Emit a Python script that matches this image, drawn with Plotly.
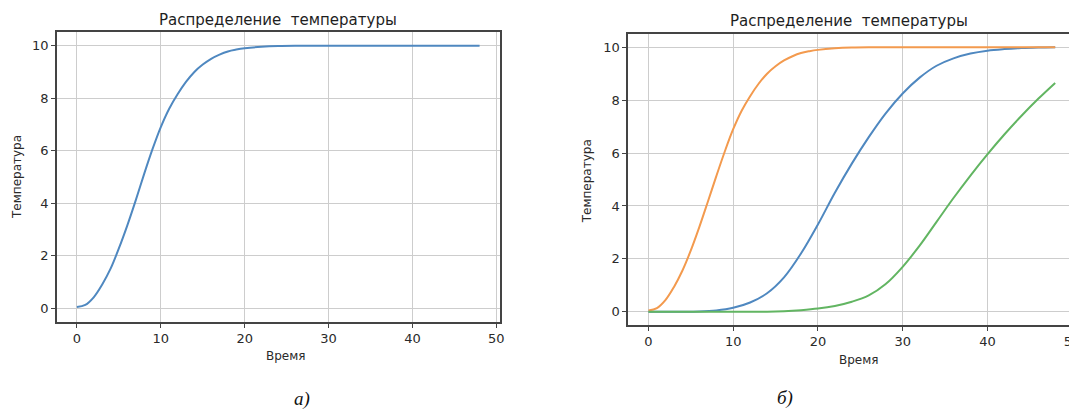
import plotly.graph_objects as go

# ---- data ----
time_a = [0, 1, 2, 3, 4, 5, 6, 7, 8, 9, 10, 11, 12, 13, 14, 15, 16, 17, 18, 19, 20,
          22, 24, 26, 28, 30, 32, 34, 36, 38, 40, 42, 44, 46, 48]
temp_a = [0.05, 0.13, 0.42, 0.9, 1.5, 2.28, 3.15, 4.1, 5.1, 6.05, 6.9, 7.6, 8.15, 8.62, 9.0, 9.28,
          9.5, 9.66, 9.78, 9.85, 9.9, 9.96, 9.99, 10.0, 10.0, 10.0, 10.0, 10.0, 10.0, 10.0, 10.0,
          10.0, 10.0, 10.0, 10.0]

time_b_orange = time_a
temp_b_orange = [0.05, 0.14, 0.44, 0.93, 1.55, 2.32, 3.2, 4.15, 5.12, 6.05, 6.9, 7.6, 8.15, 8.62, 9.0,
                 9.28, 9.5, 9.66, 9.78, 9.85, 9.9, 9.96, 9.99, 10.0, 10.0, 10.0, 10.0, 10.0, 10.0,
                 10.0, 10.0, 10.0, 10.0, 10.0, 10.0]

time_b = [0, 2, 4, 6, 8, 10, 12, 14, 16, 18, 20, 22, 24, 26, 28, 30, 32, 34, 36, 38, 40, 42, 44, 46, 48]
temp_b_blue = [0.0, 0.0, 0.0, 0.01, 0.05, 0.15, 0.35, 0.7, 1.3, 2.2, 3.3, 4.5, 5.6, 6.6, 7.5, 8.25,
               8.85, 9.3, 9.58, 9.76, 9.87, 9.93, 9.97, 9.99, 10.0]
temp_b_green = [0.0, 0.0, 0.0, 0.0, 0.0, 0.0, 0.0, 0.0, 0.02, 0.06, 0.12, 0.22, 0.38, 0.62, 1.05, 1.7,
                2.5, 3.4, 4.3, 5.15, 5.95, 6.7, 7.4, 8.05, 8.65]

x_ticks = [0, 10, 20, 30, 40, 50]
y_ticks = [0, 2, 4, 6, 8, 10]
title_text = "Распределение\u00a0 температуры"
xlabel = "Время"
ylabel = "Температура"
captions = ["а)", "б)"]

W, H = 1077, 414
OFF = 8  # browser body margin
BLUE, ORANGE, GREEN = "#4f88c0", "#f39a4e", "#62b562"
GRID = "#cdcdcd"
SPINE = "#444444"
TXT = "#2a2a2a"
FONT = "DejaVu Sans"

fig = go.Figure()
fig.add_trace(go.Scatter(x=time_a, y=temp_a, mode="lines", line=dict(color=BLUE, width=2, shape="spline"),
                         xaxis="x", yaxis="y", showlegend=False))
fig.add_trace(go.Scatter(x=time_b, y=temp_b_blue, mode="lines", line=dict(color=BLUE, width=2, shape="spline"),
                         xaxis="x2", yaxis="y2", showlegend=False))
fig.add_trace(go.Scatter(x=time_b_orange, y=temp_b_orange, mode="lines",
                         line=dict(color=ORANGE, width=2, shape="spline"),
                         xaxis="x2", yaxis="y2", showlegend=False))
fig.add_trace(go.Scatter(x=time_b, y=temp_b_green, mode="lines", line=dict(color=GREEN, width=2, shape="spline"),
                         xaxis="x2", yaxis="y2", showlegend=False))


def px_x(p):
    return (p - OFF) / W


def px_y(p):
    return 1 - (p - OFF) / H


axis_common = dict(showgrid=True, gridcolor=GRID, gridwidth=1, zeroline=False, showline=True,
                   linecolor=SPINE, linewidth=1.5, ticks="outside", ticklen=4, tickwidth=1,
                   tickcolor=SPINE, tickfont=dict(family=FONT, size=13, color=TXT))

fig.update_layout(
    width=W, height=H, margin=dict(l=0, r=0, t=0, b=0),
    paper_bgcolor="white", plot_bgcolor="white",
    xaxis=dict(domain=[px_x(57), px_x(502)], range=[-2.4, 50.4], tickvals=x_ticks, anchor="y",
               mirror=True, **axis_common),
    yaxis=dict(domain=[px_y(322), px_y(32)], range=[-0.52, 10.52], tickvals=y_ticks, anchor="x",
               mirror=True, **axis_common),
    xaxis2=dict(domain=[px_x(631), px_x(1080.5)], range=[-2.4, 50.4], tickvals=x_ticks, anchor="y2",
                mirror=True, **axis_common),
    yaxis2=dict(domain=[px_y(325), px_y(34)], range=[-0.5, 10.5], tickvals=y_ticks, anchor="x2",
                mirror=False, **axis_common),
)

ann = []
for cx, cy in [(279, 20), (853, 21)]:
    ann.append(dict(x=px_x(cx), y=px_y(cy), xref="paper", yref="paper", text=title_text, showarrow=False,
                    font=dict(family=FONT, size=15, color="#1e1e1e"), xanchor="center", yanchor="middle"))
for cx, cy in [(287, 356), (863, 360)]:
    ann.append(dict(x=px_x(cx), y=px_y(cy), xref="paper", yref="paper", text=xlabel, showarrow=False,
                    font=dict(family=FONT, size=12, color=TXT), xanchor="center", yanchor="middle"))
for cx, cy in [(17, 177), (590, 181)]:
    ann.append(dict(x=px_x(cx), y=px_y(cy), xref="paper", yref="paper", text=ylabel, showarrow=False,
                    textangle=-90, font=dict(family=FONT, size=12, color=TXT), xanchor="center", yanchor="middle"))
for txt, (cx, cy) in zip(captions, [(303, 399), (789, 398)]):
    ann.append(dict(x=px_x(cx), y=px_y(cy), xref="paper", yref="paper", text=f"<i>{txt}</i>", showarrow=False,
                    font=dict(family="Liberation Serif", size=19, color="#111111"), xanchor="center", yanchor="middle"))
fig.update_layout(annotations=ann)

fig.write_html("out.html")
